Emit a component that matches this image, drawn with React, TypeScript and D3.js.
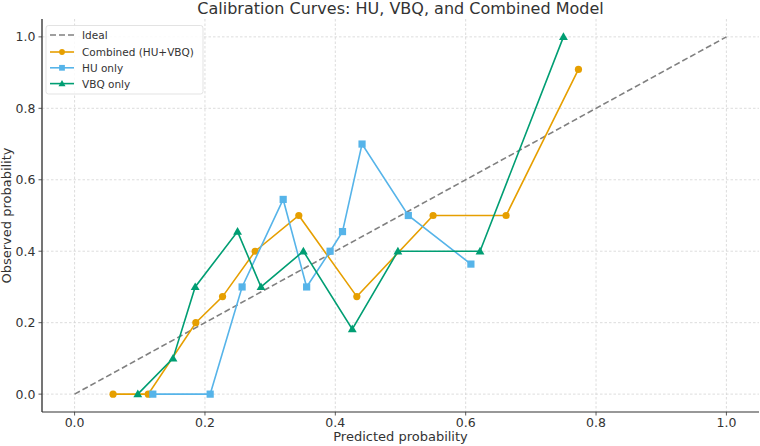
import * as d3 from 'd3';

// Mean predicted probability per bin, and the observed fraction of positives in it
const combinedX = [0.059, 0.113, 0.186, 0.227, 0.277, 0.344, 0.433, 0.55, 0.662, 0.773];
const combinedY = [0, 0, 0.2, 0.273, 0.4, 0.5, 0.273, 0.5, 0.5, 0.909];

const huX = [0.12, 0.208, 0.257, 0.32, 0.356, 0.392, 0.411, 0.441, 0.512, 0.608];
const huY = [0, 0, 0.3, 0.545, 0.3, 0.4, 0.455, 0.7, 0.5, 0.364];

const vbqX = [0.097, 0.151, 0.185, 0.25, 0.286, 0.351, 0.426, 0.496, 0.622, 0.75];
const vbqY = [0, 0.1, 0.3, 0.455, 0.3, 0.4, 0.182, 0.4, 0.4, 1.0];

const ticks = [0, 0.2, 0.4, 0.6, 0.8, 1.0];

const W = 760;
const H = 446;
const margin = { top: 19, right: 1, bottom: 34, left: 42 };
const FONT = 'DejaVu Sans, sans-serif';

type Series = { name: string; xs: number[]; ys: number[]; color: string; marker: 'circle' | 'square' | 'triangle' };

const series: Series[] = [
  { name: 'Combined (HU+VBQ)', xs: combinedX, ys: combinedY, color: '#E69F00', marker: 'circle' },
  { name: 'HU only', xs: huX, ys: huY, color: '#56B4E9', marker: 'square' },
  { name: 'VBQ only', xs: vbqX, ys: vbqY, color: '#009E73', marker: 'triangle' },
];

function Marker({ kind, x, y, color, k = 1 }: { kind: string; x: number; y: number; color: string; k?: number }) {
  if (kind === 'circle') return <circle cx={x} cy={y} r={3.6 * k} fill={color} />;
  if (kind === 'square') return <rect x={x - 3.6 * k} y={y - 3.6 * k} width={7.2 * k} height={7.2 * k} fill={color} />;
  const tri = d3.symbol(d3.symbolTriangle, 34 * k * k)();
  return <path d={tri ?? ''} transform={`translate(${x},${y + 0.6 * k})`} fill={color} />;
}

export default function App() {
  const innerW = W - margin.left - margin.right;
  const innerH = H - margin.top - margin.bottom;
  const x = d3.scaleLinear().domain([-0.05, 1.05]).range([0, innerW]);
  const y = d3.scaleLinear().domain([-0.05, 1.05]).range([innerH, 0]);
  const line = d3.line<[number, number]>().x(d => x(d[0])).y(d => y(d[1]));

  return (
    <svg width={W} height={H} style={{ position: 'fixed', left: 0, top: 0, background: '#fff' }}>
      <text x={margin.left + innerW / 2} y={14} textAnchor="middle" fontFamily={FONT} fontSize={16} fill="#333">
        Calibration Curves: HU, VBQ, and Combined Model
      </text>
      <g transform={`translate(${margin.left},${margin.top})`}>
        {/* grid */}
        {ticks.map(t => (
          <g key={`g${t}`}>
            <line x1={x(t)} x2={x(t)} y1={0} y2={innerH} stroke="#d4d4d4" strokeWidth={0.8} strokeDasharray="2.5,2" />
            <line x1={0} x2={innerW} y1={y(t)} y2={y(t)} stroke="#d4d4d4" strokeWidth={0.8} strokeDasharray="2.5,2" />
          </g>
        ))}

        {/* ideal diagonal */}
        <path d={line([[0, 0], [1, 1]]) ?? ''} fill="none" stroke="#808080" strokeWidth={1.6} strokeDasharray="6,3" />

        {series.map(s => {
          const pts = s.xs.map((v, i) => [v, s.ys[i]] as [number, number]);
          return (
            <g key={s.name}>
              <path d={line(pts) ?? ''} fill="none" stroke={s.color} strokeWidth={1.6} />
              {pts.map((p, i) => (
                <Marker key={i} kind={s.marker} x={x(p[0])} y={y(p[1])} color={s.color} />
              ))}
            </g>
          );
        })}

        {/* axes */}
        <line x1={0} x2={0} y1={0} y2={innerH} stroke="#666" strokeWidth={1.8} />
        <line x1={0} x2={innerW} y1={innerH} y2={innerH} stroke="#333" strokeWidth={1.1} />
        {ticks.map(t => (
          <g key={`t${t}`}>
            <line x1={x(t)} x2={x(t)} y1={innerH} y2={innerH + 3.5} stroke="#333" strokeWidth={0.8} />
            <text x={x(t)} y={innerH + 15} textAnchor="middle" fontFamily={FONT} fontSize={12.5} fill="#333">
              {d3.format('.1f')(t)}
            </text>
            <line x1={-3.5} x2={0} y1={y(t)} y2={y(t)} stroke="#333" strokeWidth={0.8} />
            <text x={-6.5} y={y(t) + 4.5} textAnchor="end" fontFamily={FONT} fontSize={12.5} fill="#333">
              {d3.format('.1f')(t)}
            </text>
          </g>
        ))}
        <text x={innerW / 2} y={innerH + 29} textAnchor="middle" fontFamily={FONT} fontSize={13} fill="#333">
          Predicted probability
        </text>
        <text transform={`translate(${-31},${innerH / 2}) rotate(-90)`} textAnchor="middle" fontFamily={FONT} fontSize={13} fill="#333">
          Observed probability
        </text>

        {/* legend */}
        <g transform="translate(4,6.5)">
          <rect x={0} y={0} width={157} height={68.5} rx={2.5} fill="#fff" fillOpacity={0.85} stroke="#dcdcdc" strokeWidth={0.8} />
          <line x1={4} x2={28} y1={9.5} y2={9.5} stroke="#808080" strokeWidth={1.6} strokeDasharray="6,3" />
          <text x={36} y={13.5} fontFamily={FONT} fontSize={10.5} fill="#333">Ideal</text>
          {series.map((s, i) => {
            const yy = 26.5 + i * 15.8;
            return (
              <g key={s.name}>
                <line x1={4} x2={28} y1={yy} y2={yy} stroke={s.color} strokeWidth={1.6} />
                <Marker kind={s.marker} x={16} y={yy} color={s.color} k={0.8} />
                <text x={36} y={yy + 4} fontFamily={FONT} fontSize={10.5} fill="#333">{s.name}</text>
              </g>
            );
          })}
        </g>
      </g>
    </svg>
  );
}
